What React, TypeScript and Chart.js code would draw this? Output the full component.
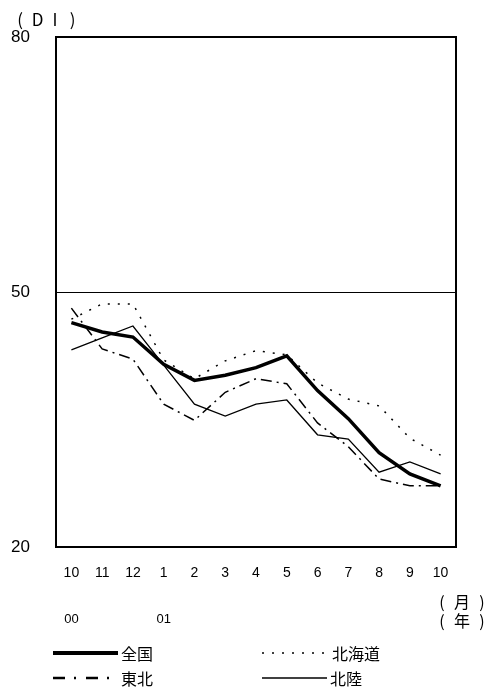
import React, { useEffect, useRef } from "react";
import { Chart, registerables } from "chart.js";

Chart.register(...registerables);

// 月 labels (Oct 2000 – Oct 2001)
const months = ["10", "11", "12", "1", "2", "3", "4", "5", "6", "7", "8", "9", "10"];
// year markers: [category index, label]
const yearMarks: [number, string][] = [
  [0, "00"],
  [3, "01"],
];
const yTicks = [20, 50, 80];

// DI series
const zenkoku = [46.4, 45.3, 44.7, 41.5, 39.6, 40.2, 41.1, 42.5, 38.4, 35.1, 31.1, 28.6, 27.2];
const hokkaido = [46.8, 48.6, 48.6, 42.0, 39.8, 41.9, 43.1, 42.6, 39.3, 37.4, 36.6, 32.8, 30.8];
const tohoku = [48.1, 43.3, 42.1, 36.8, 34.9, 38.2, 39.8, 39.2, 34.6, 31.8, 28.0, 27.2, 27.2];
const hokuriku = [43.2, 44.6, 46.0, 41.4, 36.8, 35.4, 36.8, 37.3, 33.2, 32.7, 28.8, 30.0, 28.6];

const seriesNames = ["全国", "北海道", "東北", "北陸"];

const CJK = '"Noto Sans CJK JP", sans-serif';
const LATIN = '"Liberation Sans", Arial, sans-serif';

// draws a bracketed unit such as (DI) with wide, evenly spaced glyphs
function spacedText(ctx: CanvasRenderingContext2D, chars: string[], x0: number, step: number, y: number) {
  ctx.textAlign = "center";
  chars.forEach((c, i) => ctx.fillText(c, x0 + i * step, y));
}

const overlay = {
  id: "overlay",
  afterDraw(chart: any) {
    const { ctx, chartArea, scales } = chart;
    const x = scales.x;
    ctx.save();

    // plot frame
    ctx.strokeStyle = "#000";
    ctx.lineWidth = 2;
    ctx.setLineDash([]);
    ctx.strokeRect(chartArea.left, chartArea.top, chartArea.right - chartArea.left, chartArea.bottom - chartArea.top);

    ctx.fillStyle = "#000";
    ctx.textBaseline = "middle";

    // axis unit
    ctx.font = `17px ${CJK}`;
    spacedText(ctx, ["(", "D", "I", ")"], 20, 17.5, 20);

    // year row
    ctx.font = `13px ${LATIN}`;
    ctx.textAlign = "center";
    for (const [i, t] of yearMarks) {
      ctx.fillText(t, x.getPixelForValue(i), 619);
    }

    // unit labels at the right
    ctx.font = `16px ${CJK}`;
    spacedText(ctx, ["(", "月", ")"], 442, 20, 602);
    spacedText(ctx, ["(", "年", ")"], 442, 20, 621);

    // legend
    const drawKey = (x0: number, x1: number, y: number, w: number, dash: number[], label: string) => {
      ctx.beginPath();
      ctx.lineWidth = w;
      ctx.setLineDash(dash);
      ctx.moveTo(x0, y);
      ctx.lineTo(x1, y);
      ctx.stroke();
      ctx.setLineDash([]);
      ctx.font = `16px ${CJK}`;
      ctx.textAlign = "left";
      ctx.fillText(label, x1 + 3, y + 1);
    };
    drawKey(53, 118, 653, 4, [], seriesNames[0]);
    drawKey(262, 329, 653, 1.5, [2, 8], seriesNames[1]);
    drawKey(53, 118, 678, 2.5, [12, 9, 2, 10], seriesNames[2]);
    drawKey(262, 327, 678, 1.5, [], seriesNames[3]);

    ctx.restore();
  },
};

export default function App() {
  const ref = useRef<HTMLCanvasElement | null>(null);

  useEffect(() => {
    if (!ref.current) return;
    const chart = new Chart(ref.current, {
      type: "line",
      data: {
        labels: months,
        datasets: [
          { label: seriesNames[0], data: zenkoku, borderColor: "#000", borderWidth: 3.5 },
          { label: seriesNames[1], data: hokkaido, borderColor: "#000", borderWidth: 1.5, borderDash: [2, 8] },
          { label: seriesNames[2], data: tohoku, borderColor: "#000", borderWidth: 1.5, borderDash: [11, 5, 2, 5] },
          { label: seriesNames[3], data: hokuriku, borderColor: "#000", borderWidth: 1.3 },
        ].map((d) => ({ ...d, pointRadius: 0, tension: 0, fill: false })),
      },
      options: {
        animation: false,
        responsive: false,
        devicePixelRatio: 1,
        layout: { padding: { top: 37, right: 36, bottom: 109, left: 0 } },
        plugins: { legend: { display: false }, tooltip: { enabled: false } },
        scales: {
          x: {
            type: "category",
            offset: true,
            grid: { display: false, drawTicks: false },
            border: { display: false },
            ticks: { color: "#000", font: { family: LATIN, size: 14 }, padding: 18, maxRotation: 0, autoSkip: false },
            afterFit: (s: any) => {
              s.height = 40;
            },
          },
          y: {
            min: 20,
            max: 80,
            afterBuildTicks: (s: any) => {
              s.ticks = yTicks.map((v) => ({ value: v }));
            },
            grid: {
              drawTicks: false,
              color: (c: any) => (c.tick && c.tick.value === 50 ? "#000" : "rgba(0,0,0,0)"),
              lineWidth: 1,
            },
            border: { display: false },
            ticks: { color: "#000", font: { family: LATIN, size: 17 }, padding: 26 },
            afterFit: (s: any) => {
              s.width = 56;
            },
          },
        },
      },
      plugins: [overlay],
    });
    return () => chart.destroy();
  }, []);

  return (
    <div style={{ position: "fixed", left: 0, top: 0, width: 492, height: 696, background: "#fff" }}>
      <canvas ref={ref} width={492} height={696} style={{ display: "block" }} />
    </div>
  );
}
